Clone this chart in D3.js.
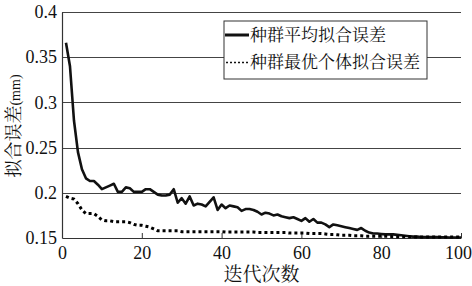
<!DOCTYPE html>
<html>
<head>
<meta charset="utf-8">
<script src="https://cdn.jsdelivr.net/npm/d3@7"></script>
<style>
  body { margin: 0; background: #fff; }
  svg { display: block; }
</style>
</head>
<body>
<div id="chart"></div>
<script>
// iterations 1..100
const iterations = d3.range(1, 101);
const meanError = [
  0.366, 0.340, 0.280, 0.245, 0.226, 0.216, 0.213, 0.213, 0.209, 0.204,
  0.206, 0.208, 0.210, 0.201, 0.201, 0.206, 0.205, 0.201, 0.201, 0.201,
  0.204, 0.204, 0.201, 0.198, 0.197, 0.197, 0.198, 0.204, 0.189, 0.194,
  0.188, 0.196, 0.186, 0.188, 0.187, 0.185, 0.190, 0.195, 0.181, 0.187,
  0.183, 0.186, 0.185, 0.184, 0.180, 0.182, 0.182, 0.181, 0.179, 0.176,
  0.178, 0.177, 0.175, 0.176, 0.174, 0.173, 0.172, 0.173, 0.171, 0.169,
  0.172, 0.168, 0.171, 0.167, 0.167, 0.165, 0.162, 0.165, 0.164, 0.163,
  0.162, 0.161, 0.160, 0.159, 0.161, 0.158, 0.156, 0.155, 0.155, 0.1545,
  0.154, 0.154, 0.154, 0.1535, 0.153, 0.1525, 0.152, 0.1515, 0.1515, 0.151,
  0.151, 0.151, 0.151, 0.151, 0.1508, 0.1508, 0.1506, 0.1506, 0.1505, 0.1505
];
const bestError = [
  0.196, 0.194, 0.193, 0.188, 0.181, 0.177, 0.177, 0.177, 0.174, 0.170,
  0.169, 0.169, 0.168, 0.168, 0.168, 0.168, 0.167, 0.165, 0.164, 0.164,
  0.163, 0.162, 0.160, 0.158, 0.158, 0.158, 0.158, 0.158, 0.158, 0.157,
  0.157, 0.157, 0.157, 0.157, 0.157, 0.157, 0.157, 0.157, 0.157, 0.157,
  0.1565, 0.1565, 0.1565, 0.1565, 0.1565, 0.1565, 0.1565, 0.1565, 0.156, 0.156,
  0.156, 0.156, 0.156, 0.156, 0.156, 0.156, 0.1555, 0.1555, 0.1555, 0.1555,
  0.1555, 0.155, 0.155, 0.155, 0.155, 0.1545, 0.154, 0.154, 0.1535, 0.153,
  0.153, 0.153, 0.1525, 0.1525, 0.1525, 0.152, 0.152, 0.152, 0.152, 0.152,
  0.152, 0.152, 0.1515, 0.1515, 0.1515, 0.1515, 0.1515, 0.151, 0.151, 0.151,
  0.151, 0.151, 0.151, 0.151, 0.151, 0.151, 0.151, 0.151, 0.151, 0.151
];
const xTicks = [0, 20, 40, 60, 80, 100];
const yTicks = [0.15, 0.2, 0.25, 0.3, 0.35, 0.4];
const legendLabels = ["种群平均拟合误差", "种群最优个体拟合误差"];

const W = 472, H = 286;
const margin = { top: 12, right: 11, bottom: 48, left: 62 };
const width = W - margin.left - margin.right;
const height = H - margin.top - margin.bottom;

const numFont = '"Liberation Serif"';
const cjkFont = '"Liberation Serif", "Noto Serif CJK SC"';

const svg = d3.select("#chart").append("svg")
    .attr("width", W)
    .attr("height", H);
const g = svg.append("g")
    .attr("transform", `translate(${margin.left},${margin.top})`);

const x = d3.scaleLinear().domain([0, 100]).range([0, width]);
const y = d3.scaleLinear().domain([0.15, 0.4]).range([height, 0]);

// horizontal grid lines
g.selectAll(".grid")
    .data(yTicks.slice(1))
    .enter()
    .append("line")
    .attr("x1", 0)
    .attr("x2", width)
    .attr("y1", d => Math.round(y(d)) + 0.5)
    .attr("y2", d => Math.round(y(d)) + 0.5)
    .attr("stroke", "#444")
    .attr("stroke-width", 1);

// x axis
const xAxis = g.append("g")
    .attr("transform", `translate(0,${height})`)
    .call(d3.axisBottom(x).tickValues(xTicks).tickSizeInner(-5).tickSizeOuter(0).tickPadding(8));
xAxis.select(".domain").attr("stroke", "#333").attr("stroke-width", 1.2);
xAxis.selectAll(".tick line").attr("stroke", "#333");
xAxis.selectAll("text")
    .style("font-family", numFont)
    .style("font-size", "18px")
    .attr("fill", "#111")
    .attr("dx", d => d === 100 ? -3 : 0);

// y axis
const yAxis = g.append("g")
    .call(d3.axisLeft(y).tickValues(yTicks).tickSize(0).tickPadding(5).tickFormat(d3.format("")));
yAxis.select(".domain").attr("stroke", "#333").attr("stroke-width", 1.2);
yAxis.selectAll("text")
    .style("font-family", numFont)
    .style("font-size", "18px")
    .attr("fill", "#111");

// lines
const line = d3.line()
    .x((d, i) => x(iterations[i]))
    .y(d => y(d));

g.append("path")
    .datum(meanError)
    .attr("fill", "none")
    .attr("stroke", "#111")
    .attr("stroke-width", 2.6)
    .attr("stroke-linejoin", "round")
    .attr("d", line);

g.append("path")
    .datum(bestError)
    .attr("fill", "none")
    .attr("stroke", "#000")
    .attr("stroke-width", 3)
    .attr("stroke-dasharray", "3,3")
    .attr("d", line);

// legend
const legend = svg.append("g").attr("transform", "translate(224,21)");
legend.append("rect")
    .attr("width", 203)
    .attr("height", 58)
    .attr("fill", "#fff")
    .attr("stroke", "#333")
    .attr("stroke-width", 1);
legend.append("line")
    .attr("x1", 1).attr("x2", 25).attr("y1", 14).attr("y2", 14)
    .attr("stroke", "#111").attr("stroke-width", 3);
legend.append("line")
    .attr("x1", 2).attr("x2", 25).attr("y1", 41.5).attr("y2", 41.5)
    .attr("stroke", "#111").attr("stroke-width", 1.5)
    .attr("stroke-dasharray", "2,2");
legend.selectAll(".leg-text")
    .data(legendLabels)
    .enter()
    .append("text")
    .attr("class", "leg-text")
    .attr("x", 26)
    .attr("y", (d, i) => 20 + i * 27)
    .style("font-family", cjkFont)
    .style("font-size", "17px")
    .attr("fill", "#111")
    .text(d => d);

// axis titles
svg.append("text")
    .attr("x", margin.left + x(50))
    .attr("y", 281)
    .attr("text-anchor", "middle")
    .style("font-family", cjkFont)
    .style("font-size", "19px")
    .attr("fill", "#111")
    .text("迭代次数");

const yTitle = svg.append("text")
    .attr("transform", "translate(20,126) rotate(-90)")
    .attr("text-anchor", "middle")
    .style("font-family", cjkFont)
    .style("font-size", "18px")
    .attr("fill", "#111");
yTitle.append("tspan").text("拟合误差");
yTitle.append("tspan")
    .style("font-family", numFont)
    .style("font-size", "14px")
    .text("(mm)");
</script>
</body>
</html>
